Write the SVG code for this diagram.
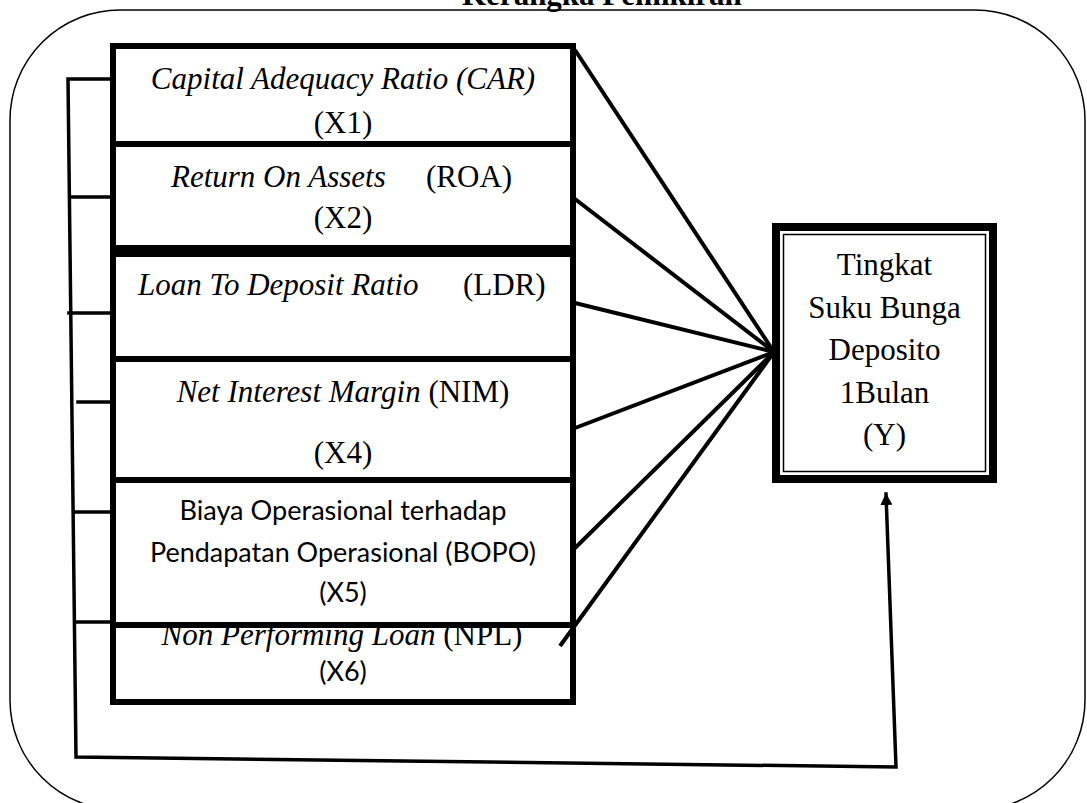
<svg xmlns="http://www.w3.org/2000/svg" width="1087" height="803" viewBox="0 0 1087 803">
<style>
.frame{fill:none;stroke:#000;stroke-width:1.5}
.box{fill:#fff;stroke:#000;stroke-width:6}
.serif{font-family:"Liberation Serif","Times New Roman",serif;font-size:31px;fill:#000}
.sans{font-family:Lato,"Liberation Sans",sans-serif;font-size:27px;fill:#000}
.it{font-style:italic}
.line{fill:none;stroke:#000;stroke-width:3.5;stroke-linecap:square}
.fan{fill:none;stroke:#000;stroke-width:4}
</style>
<defs>
<marker id="arrow" markerWidth="12" markerHeight="12" refX="11" refY="6" orient="auto" markerUnits="userSpaceOnUse">
<path d="M0,0 L12,6 L0,12 z" fill="#000"/>
</marker>
</defs>
<rect class="frame" x="10" y="10" width="1075" height="800" rx="110" ry="110"/>
<text class="serif" x="462" y="5" font-weight="bold">Kerangka Pemikiran</text>

<g id="node-car">
<rect class="box" x="113" y="46" width="460" height="98"/>
<text class="serif" x="343" y="89" text-anchor="middle"><tspan class="it">Capital Adequacy Ratio (CAR)</tspan></text>
<text class="serif" x="343" y="133" text-anchor="middle">(X1)</text>
</g>
<g id="node-roa">
<rect class="box" x="113" y="144" width="460" height="104"/>
<text class="serif" x="171" y="187"><tspan class="it">Return On Assets</tspan><tspan x="426">(ROA)</tspan></text>
<text class="serif" x="343" y="228" text-anchor="middle">(X2)</text>
</g>
<g id="node-ldr">
<rect class="box" x="113" y="254" width="460" height="105"/>
<text class="serif" x="138" y="295"><tspan class="it">Loan To Deposit Ratio</tspan><tspan x="463">(LDR)</tspan></text>
</g>
<g id="node-nim">
<rect class="box" x="113" y="359" width="460" height="121"/>
<text class="serif" x="343" y="402" text-anchor="middle"><tspan class="it">Net Interest Margin</tspan> (NIM)</text>
<text class="serif" x="343" y="463" text-anchor="middle">(X4)</text>
</g>
<g id="node-npl">
<rect class="box" x="113" y="625" width="460" height="77"/>
<text class="serif" x="342" y="645" text-anchor="middle"><tspan class="it">Non Performing Loan</tspan> (NPL)</text>
<text class="sans" x="343" y="681" text-anchor="middle">(X6)</text>
</g>
<g id="node-bopo">
<rect class="box" x="113" y="480" width="460" height="145"/>
<text class="sans" x="343" y="520" text-anchor="middle" textLength="327" lengthAdjust="spacingAndGlyphs">Biaya Operasional terhadap</text>
<text class="sans" x="343" y="562" text-anchor="middle" textLength="386" lengthAdjust="spacingAndGlyphs">Pendapatan Operasional (BOPO)</text>
<text class="sans" x="343" y="602" text-anchor="middle">(X5)</text>
</g>
<g id="node-y">
<rect x="776" y="227" width="217" height="252" fill="#fff" stroke="#000" stroke-width="8"/>
<rect x="783.5" y="234.5" width="202" height="237" fill="none" stroke="#000" stroke-width="1.5"/>
<text class="serif" x="884.5" y="275" text-anchor="middle">Tingkat</text>
<text class="serif" x="884.5" y="318" text-anchor="middle">Suku Bunga</text>
<text class="serif" x="884.5" y="360" text-anchor="middle">Deposito</text>
<text class="serif" x="884.5" y="403" text-anchor="middle">1Bulan</text>
<text class="serif" x="884.5" y="445" text-anchor="middle">(Y)</text>
</g>

<g id="connectors">
<polyline class="line" points="110,79 68,79 76,757 896,767 886,494" marker-end="url(#arrow)"/>
<line class="line" x1="70" y1="197" x2="110" y2="197"/>
<line class="line" x1="69" y1="313" x2="110" y2="313"/>
<line class="line" x1="78" y1="402" x2="110" y2="402"/>
<line class="line" x1="75" y1="512" x2="110" y2="512"/>
<line class="line" x1="76" y1="622" x2="110" y2="622"/>
<line class="fan" x1="575" y1="50" x2="774" y2="352"/>
<line class="fan" x1="575" y1="199" x2="774" y2="352"/>
<line class="fan" x1="575" y1="303" x2="774" y2="352"/>
<line class="fan" x1="575" y1="428" x2="774" y2="352"/>
<line class="fan" x1="575" y1="548" x2="774" y2="352"/>
<line class="fan" x1="560" y1="646" x2="774" y2="352"/>
</g>
</svg>
